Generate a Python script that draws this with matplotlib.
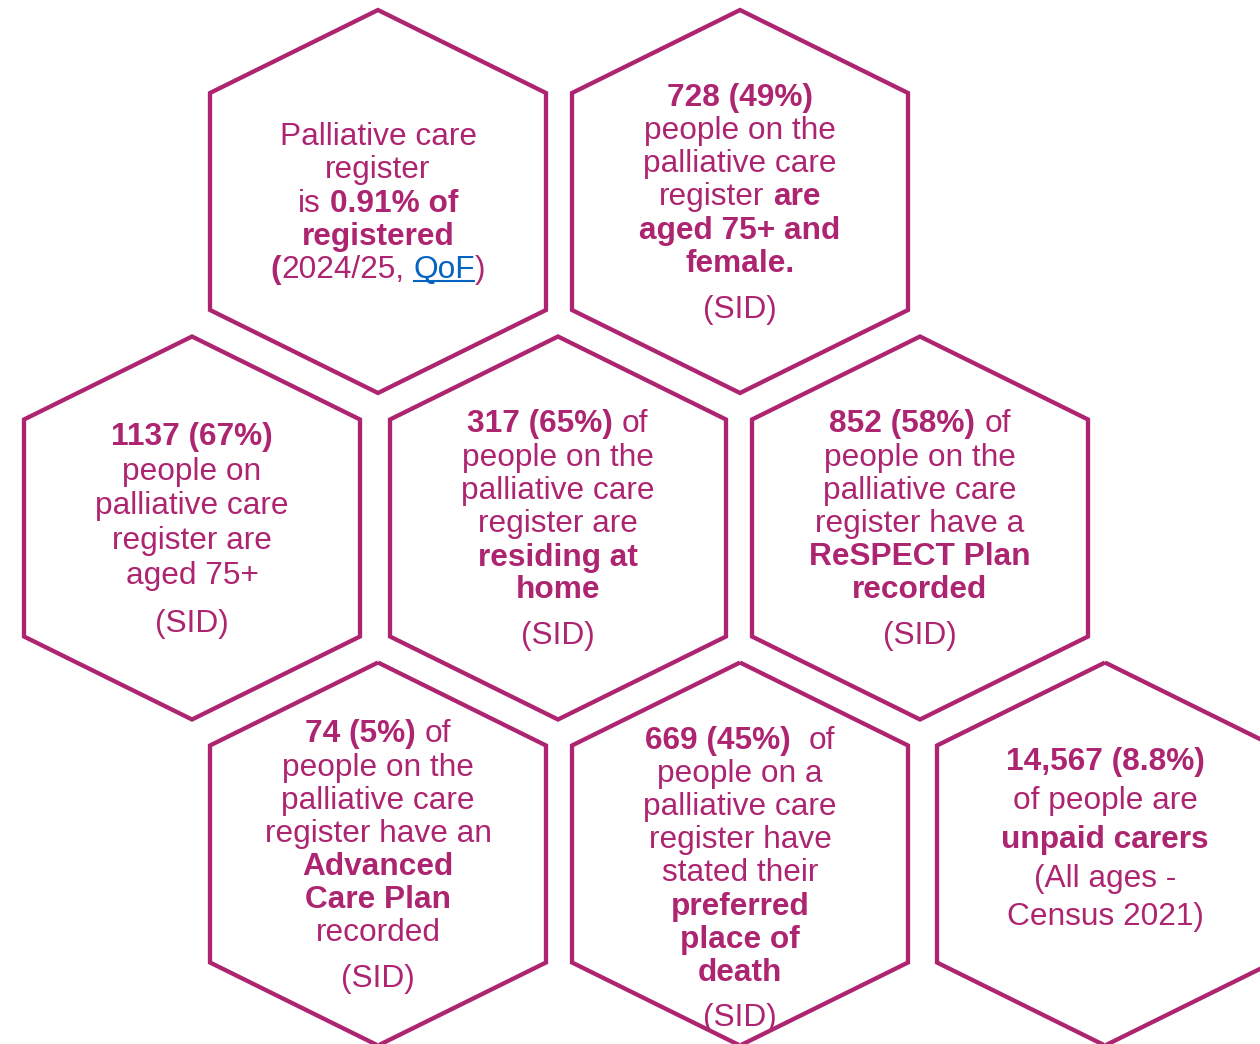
import re
import matplotlib
matplotlib.use("Agg")
import matplotlib.pyplot as plt
from matplotlib.patches import Polygon

# ---------------- data (statement texts; ** toggles bold, [[..]] = link) ----
hex1_lines = ["Palliative care", "register", "is **0.91% of**", "**registered**",
              "**(**2024/25, [[QoF]])"]
hex2_lines = ["**728 (49%)**", "people on the", "palliative care", "register **are**",
              "**aged 75+ and**", "**female.**", "(SID)"]
hex3_lines = ["**1137 (67%)**", "people on", "palliative care", "register are",
              "aged 75+", "(SID)"]
hex4_lines = ["**317 (65%)** of", "people on the", "palliative care", "register are",
              "**residing at**", "**home**", "(SID)"]
hex5_lines = ["**852 (58%)** of", "people on the", "palliative care", "register have a",
              "**ReSPECT Plan**", "**recorded**", "(SID)"]
hex6_lines = ["**74 (5%)** of", "people on the", "palliative care", "register have an",
              "**Advanced**", "**Care Plan**", "recorded", "(SID)"]
hex7_lines = ["**669 (45%)**  of", "people on a", "palliative care", "register have",
              "stated their", "**preferred**", "**place of**", "**death**", "(SID)"]
hex8_lines = ["**14,567 (8.8%)**", "of people are", "**unpaid carers**", "(All ages -",
              "Census 2021)"]

# ---------------- layout ----------------
W, H = 1260, 1044
PINK = '#AD2470'
LINK = '#0563C1'
FS = 22.8
FAMILY = 'Liberation Sans'
HALF_W, HALF_H, SHOULDER = 168, 191.5, 108.5

hexes = [
    (378, 201.5, hex1_lines, [134, 167, 201, 234, 267]),
    (740, 201.5, hex2_lines, [95, 128, 161, 194, 228, 261, 307]),
    (192, 528, hex3_lines, [434, 469, 503, 538, 573, 621]),
    (558, 528, hex4_lines, [421, 455, 488, 521, 555, 587, 633]),
    (920, 528, hex5_lines, [421, 455, 488, 521, 554, 587, 633]),
    (378, 854, hex6_lines, [731, 765, 798, 831, 864, 897, 930, 976]),
    (740, 854, hex7_lines, [738, 771, 804, 837, 870, 904, 937, 970, 1015]),
    (1105, 854, hex8_lines, [759, 798, 837, 876, 914]),
]

fig = plt.figure(figsize=(12.6, 10.44), dpi=100)
ax = fig.add_axes([0, 0, 1, 1])
ax.set_xlim(0, W)
ax.set_ylim(H, 0)
ax.axis('off')
renderer = fig.canvas.get_renderer()


def hex_points(cx, cy):
    return [(cx, cy - HALF_H), (cx + HALF_W, cy - SHOULDER), (cx + HALF_W, cy + SHOULDER),
            (cx, cy + HALF_H), (cx - HALF_W, cy + SHOULDER), (cx - HALF_W, cy - SHOULDER)]


def parse(line):
    parts = re.split(r'(\*\*|\[\[|\]\])', line)
    bold = False
    link = False
    segs = []
    for p in parts:
        if p == '**':
            bold = not bold
        elif p == '[[':
            link = True
        elif p == ']]':
            link = False
        elif p:
            segs.append((p, bold, link))
    return segs


_cache = {}


def text_width(s, bold):
    key = (s, bold)
    if key not in _cache:
        t = ax.text(0, 0, s, fontsize=FS, family=FAMILY,
                    fontweight='bold' if bold else 'normal')
        _cache[key] = t.get_window_extent(renderer).width
        t.remove()
    return _cache[key]


def space_width(bold):
    return text_width("x x", bold) - text_width("xx", bold)


def draw_line(cx, y, line):
    segs = parse(line)
    items = []
    total = 0.0
    for s, bold, link in segs:
        core = s.strip(' ')
        lead = len(s) - len(s.lstrip(' '))
        trail = len(s) - len(s.rstrip(' '))
        sp = space_width(bold)
        wcore = text_width(core, bold) if core else 0.0
        items.append((core, bold, link, total + lead * sp, wcore))
        total += lead * sp + wcore + trail * sp
    x0 = cx - total / 2
    base = y + 11
    for core, bold, link, off, wcore in items:
        if not core:
            continue
        ax.text(x0 + off, base, core, fontsize=FS, family=FAMILY,
                fontweight='bold' if bold else 'normal',
                color=LINK if link else PINK, ha='left', va='baseline')
        if link:
            ax.plot([x0 + off, x0 + off + wcore], [base + 3, base + 3],
                    color=LINK, lw=1.5, solid_capstyle='butt')


for cx, cy, lines, ys in hexes:
    ax.add_patch(Polygon(hex_points(cx, cy), closed=True, fill=False,
                         edgecolor=PINK, linewidth=3.1, joinstyle='miter'))
    for line, y in zip(lines, ys):
        draw_line(cx, y, line)

fig.savefig('out.png', dpi=100, facecolor='white')
